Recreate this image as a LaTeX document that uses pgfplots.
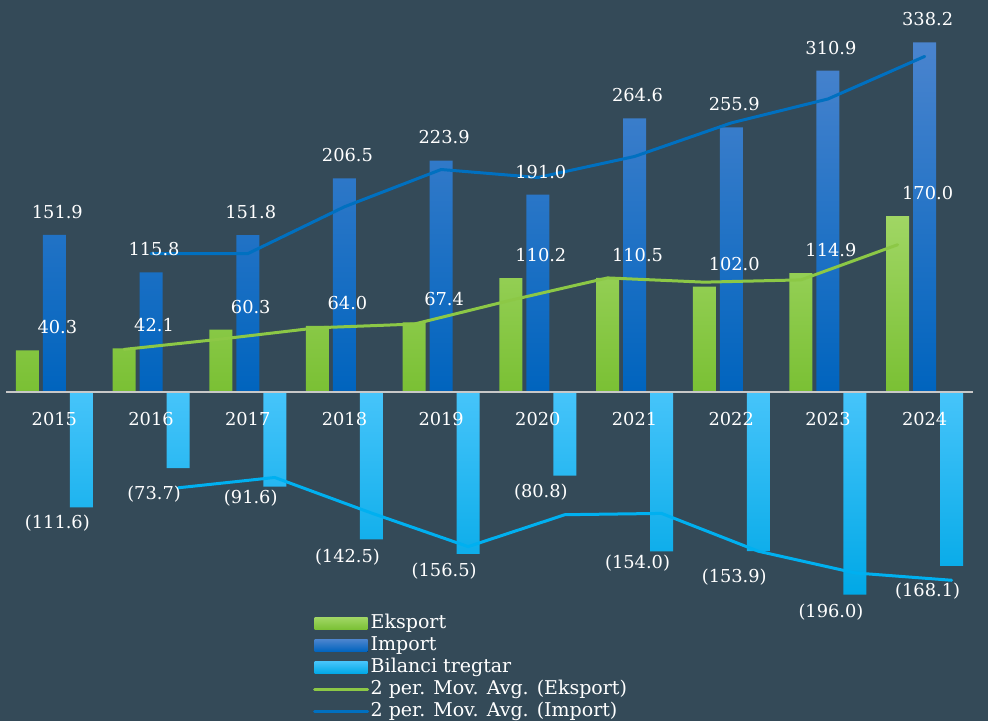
\documentclass[border=0pt]{standalone}
\usepackage{fontspec}
\setmainfont{DejaVu Serif}
\usepackage{pgfplots}
\usepackage{pgfplotstable}
\pgfplotsset{compat=1.18}
\definecolor{bg}{RGB}{52,74,88}
\definecolor{gtop}{RGB}{160,214,100}
\definecolor{gbot}{RGB}{122,192,52}
\definecolor{itop}{RGB}{74,132,206}
\definecolor{ibot}{RGB}{0,100,190}
\definecolor{btop}{RGB}{70,196,250}
\definecolor{bbot}{RGB}{0,168,230}
\definecolor{gline}{RGB}{140,200,70}
\definecolor{iline}{RGB}{0,112,192}
\definecolor{bline}{RGB}{0,176,240}
\definecolor{zline}{RGB}{200,200,200}

\pgfplotstableread{
x y lab
0 40.3 40.3
1 42.1 42.1
2 60.3 60.3
3 64.0 64.0
4 67.4 67.4
5 110.2 110.2
6 110.5 110.5
7 102.0 102.0
8 114.9 114.9
9 170.0 170.0
}\eksport

\pgfplotstableread{
x y lab
0 151.9 151.9
1 115.8 115.8
2 151.8 151.8
3 206.5 206.5
4 223.9 223.9
5 191.0 191.0
6 264.6 264.6
7 255.9 255.9
8 310.9 310.9
9 338.2 338.2
}\import

\pgfplotstableread{
x y lab off
0 -111.6 (111.6) 16
1 -73.7 (73.7) 26
2 -91.6 (91.6) 11
3 -142.5 (142.5) 18
4 -156.5 (156.5) 17
5 -80.8 (80.8) 17
6 -154.0 (154.0) 12
7 -153.9 (153.9) 26
8 -196.0 (196.0) 17
9 -168.1 (168.1) 25
}\bilanci

\newcommand{\lblfont}{\fontsize{17.8}{20}\selectfont}
\begin{document}
\begin{tikzpicture}
\useasboundingbox[fill=bg] (0pt,0pt) rectangle (988pt,721pt);
\begin{axis}[
  at={(6pt,101.5pt)}, anchor=south west,
  scale only axis, width=967pt, height=599.72pt,
  xmin=-0.5, xmax=9.5, ymin=-220, ymax=360,
  axis on top,
  axis x line=middle, axis y line=none,
  x axis line style={-, draw=zline, line width=2.6pt},
  xtick={0,...,9},
  xticklabels={2015,2016,2017,2018,2019,2020,2021,2022,2023,2024},
  major tick length=0pt,
  xticklabel style={anchor=center, yshift=-27pt, text=white, font=\lblfont},
  point meta=explicit symbolic,
  legend cell align=left,
  legend style={at={(0.3175,0.012)}, anchor=north west, draw=none, fill=none,
    inner sep=0pt, text=white, font=\fontsize{19}{20}\selectfont,
    row sep=0pt,
    nodes={inner sep=1.5pt, text height=14pt, text depth=5pt},
    /tikz/every even column/.append style={column sep=2pt}},
]
\addplot[ybar, bar width=23pt, bar shift=-27pt, draw=none,
  top color=gtop, bottom color=gbot,
  legend image code/.code={\fill[top color=gtop, bottom color=gbot] (0pt,-6pt) rectangle (53pt,6pt);},
  nodes near coords,
  nodes near coords style={anchor=center, yshift=23pt, xshift=3pt, text=white, font=\lblfont}]
  table[x=x, y=y, meta=lab] {\eksport};
\addlegendentry{Eksport}
\addplot[ybar, bar width=23pt, bar shift=0pt, draw=none,
  top color=itop, bottom color=ibot,
  legend image code/.code={\fill[top color=itop, bottom color=ibot] (0pt,-6pt) rectangle (53pt,6pt);},
  nodes near coords,
  nodes near coords style={anchor=center, yshift=23pt, xshift=3pt, text=white, font=\lblfont}]
  table[x=x, y=y, meta=lab] {\import};
\addlegendentry{Import}
\addplot[ybar, bar width=23pt, bar shift=27pt, draw=none,
  top color=btop, bottom color=bbot,
  legend image code/.code={\fill[top color=btop, bottom color=bbot] (0pt,-6pt) rectangle (53pt,6pt);},
  visualization depends on={\thisrow{off} \as \myoff},
  nodes near coords,
  nodes near coords style={anchor=center, yshift=-\myoff pt, xshift=3pt, text=white, font=\lblfont}]
  table[x=x, y=y, meta=lab] {\bilanci};
\addlegendentry{Bilanci tregtar}
\addplot[gline, line width=3pt, line join=round, line cap=round,
  legend image code/.code={\draw[gline, line width=3pt, line cap=round] (0pt,0pt) -- (53pt,0pt);}]
  coordinates {(0.7208,41.2) (1.7208,51.2) (2.7208,62.15) (3.7208,65.7) (4.7208,88.8) (5.7208,110.35) (6.7208,106.25) (7.7208,108.45) (8.7208,142.45)};
\addlegendentry{2 per. Mov. Avg. (Eksport)}
\addplot[iline, line width=3pt, line join=round, line cap=round,
  legend image code/.code={\draw[iline, line width=3pt, line cap=round] (0pt,0pt) -- (53pt,0pt);}]
  coordinates {(1,133.85) (2,133.8) (3,179.15) (4,215.2) (5,207.45) (6,227.8) (7,260.25) (8,283.4) (9,324.55)};
\addlegendentry{2 per. Mov. Avg. (Import)}
\addplot[bline, line width=3pt, line join=round, line cap=round, forget plot]
  coordinates {(1.2792,-92.65) (2.2792,-82.65) (3.2792,-117.05) (4.2792,-149.5) (5.2792,-118.65) (6.2792,-117.4) (7.2792,-153.95) (8.2792,-174.95) (9.2792,-182.05)};
\end{axis}
\end{tikzpicture}
\end{document}
